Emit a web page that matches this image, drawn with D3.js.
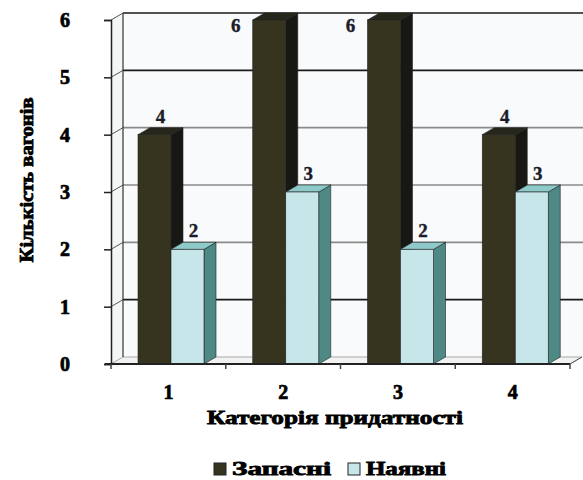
<!DOCTYPE html>
<html><head><meta charset="utf-8">
<script src="https://cdn.jsdelivr.net/npm/d3@7"></script>
<style>html,body{margin:0;padding:0;background:#fff;}svg{display:block;}
svg text{font-family:"Liberation Serif","Times New Roman","DejaVu Serif",serif;font-weight:bold;}</style>
</head><body>
<script>
const categories = ["1", "2", "3", "4"];
const seriesNames = ["Запасні", "Наявні"];
const spare = [4, 6, 6, 4];
const available = [2, 3, 2, 3];
const yTicks = [0, 1, 2, 3, 4, 5, 6];
const xTitle = "Категорія придатності";
const yTitle = "Кількість вагонів";

const W = 583, H = 480;
const DX = 12, DY = -7;
const svg = d3.select("body").append("svg").attr("width", W).attr("height", H);

const x = d3.scaleBand().domain(categories).range([111, 570]).padding(0);
const xs = d3.scaleBand().domain(seriesNames).range([27, 93]).padding(0);
const y = d3.scaleLinear().domain([0, 6]).range([364, 20]);
const color = d3.scaleOrdinal().domain(seriesNames).range(["#36341f", "#c6e6e9"]);
const sideColor = d3.scaleOrdinal().domain(seriesNames).range(["#171713", "#4e8985"]);
const topColor = d3.scaleOrdinal().domain(seriesNames).range(["#26261c", "#8fcaca"]);

const x0 = x.range()[0], x1 = x.range()[1];
const yb = y(0), yt = y(6);

svg.append("rect").attr("x", x0 + DX).attr("y", yt + DY).attr("width", W - x0 - DX + 5).attr("height", yb - yt)
  .attr("fill", "#f9fafb");
svg.append("polygon").attr("points", [[x0, yt], [x0 + DX, yt + DY], [x0 + DX, yb + DY], [x0, yb]].join(" "))
  .attr("fill", "#f4f5f5");
svg.append("polygon").attr("points", [[x0, yb], [x0 + DX, yb + DY], [x1 + DX, yb + DY], [x1, yb]].join(" "))
  .attr("fill", "#f2f2f2").attr("stroke", "#aaa").attr("stroke-width", 1);

const gridColor = v => (v === 1 || v === 5 || v === 6) ? "#1a1a1a" : "#8a8a8a";
yTicks.forEach(v => {
  if (v === 0) return;
  svg.append("line").attr("x1", x0 + DX).attr("x2", W + 5).attr("y1", y(v) + DY).attr("y2", y(v) + DY)
    .attr("stroke", gridColor(v)).attr("stroke-width", 1.6);
  svg.append("line").attr("x1", x0).attr("x2", x0 + DX).attr("y1", y(v)).attr("y2", y(v) + DY)
    .attr("stroke", "#555").attr("stroke-width", 1);
});
svg.append("line").attr("x1", x0 + DX).attr("x2", x0 + DX).attr("y1", yt + DY).attr("y2", yb + DY)
  .attr("stroke", "#333").attr("stroke-width", 1.2);

const yAxis = d3.axisLeft(y).tickValues(yTicks).tickSize(7).tickPadding(38).tickFormat(d3.format("d"));
const ga = svg.append("g").attr("transform", `translate(${x0},0)`).call(yAxis);
ga.attr("font-family", null).attr("font-size", null);
ga.select(".domain").attr("stroke", "#222").attr("stroke-width", 1.5);
ga.selectAll(".tick line").attr("stroke", "#222").attr("stroke-width", 1.5);
ga.selectAll(".tick text").style("font-size", "20px")
  .attr("fill", "#000").attr("stroke", "#000").attr("stroke-width", 0.7).attr("text-anchor", "middle")
  .attr("x", 65 - x0);

const data = categories.map((c, i) => ({ cat: c, vals: [
  { key: seriesNames[0], v: spare[i] },
  { key: seriesNames[1], v: available[i] }
]}));

data.forEach(d => {
  d.vals.forEach(s => {
    const bx = x(d.cat) + xs(s.key), bw = xs.bandwidth();
    const ty = y(s.v), by = y(0);
    const g = svg.append("g");
    g.append("polygon").attr("points", [[bx + bw, ty], [bx + bw + DX, ty + DY], [bx + bw + DX, by + DY], [bx + bw, by]].join(" "))
      .attr("fill", sideColor(s.key)).attr("stroke", "#222").attr("stroke-width", 0.6);
    g.append("polygon").attr("points", [[bx, ty], [bx + DX, ty + DY], [bx + bw + DX, ty + DY], [bx + bw, ty]].join(" "))
      .attr("fill", topColor(s.key)).attr("stroke", "#222").attr("stroke-width", 0.6);
    g.append("rect").attr("x", bx).attr("y", ty).attr("width", bw).attr("height", by - ty)
      .attr("fill", color(s.key)).attr("stroke", "#222").attr("stroke-width", 0.6);
  });
});

data.forEach(d => {
  d.vals.forEach(s => {
    const bx = x(d.cat) + xs(s.key), bw = xs.bandwidth();
    let lx = bx + bw / 2 + DX / 2, ly = y(s.v) + DY - 5;
    if (ly < 28) { lx = bx - 17; ly = y(s.v) + 12; }
    svg.append("text").attr("x", lx).attr("y", ly).attr("text-anchor", "middle")
      .style("font-size", "19px")
      .attr("fill", "#1b1b2a").attr("stroke", "#1b1b2a").attr("stroke-width", 0.4).text(s.v);
  });
});

svg.append("line").attr("x1", x0 - 6).attr("x2", x1).attr("y1", yb).attr("y2", yb)
  .attr("stroke", "#222").attr("stroke-width", 2);
svg.append("line").attr("x1", x1).attr("x2", x1 + DX).attr("y1", yb).attr("y2", yb + DY)
  .attr("stroke", "#555").attr("stroke-width", 1);
const xAxis = d3.axisBottom(x).tickSize(0).tickPadding(0);
const gx = svg.append("g").attr("transform", `translate(0,${yb})`).call(xAxis);
gx.attr("font-family", null).attr("font-size", null);
gx.select(".domain").remove();
gx.selectAll(".tick text").style("font-size", "20px")
  .attr("fill", "#000").attr("stroke", "#000").attr("stroke-width", 0.7).attr("dy", 0).attr("y", 35);
[...categories.map(c => x(c)), x1].forEach(px => {
  svg.append("line").attr("x1", px).attr("x2", px).attr("y1", yb).attr("y2", yb + 5)
    .attr("stroke", "#444").attr("stroke-width", 1.5);
});

svg.append("text").attr("x", 335).attr("y", 424).attr("text-anchor", "middle")
  .style("font-size", "19px")
  .attr("textLength", 256).attr("lengthAdjust", "spacingAndGlyphs")
  .attr("fill", "#000").attr("stroke", "#000").attr("stroke-width", 0.8).text(xTitle);
svg.append("text").attr("transform", "translate(33,180) rotate(-90)").attr("text-anchor", "middle")
  .style("font-size", "19px")
  .attr("textLength", 165).attr("lengthAdjust", "spacingAndGlyphs")
  .attr("fill", "#000").attr("stroke", "#000").attr("stroke-width", 0.8).text(yTitle);

const legendX = [214, 348];
const legendW = [99, 80];
seriesNames.forEach((n, i) => {
  svg.append("rect").attr("x", legendX[i]).attr("y", 463).attr("width", 12).attr("height", 12)
    .attr("fill", color(n)).attr("stroke", "#222").attr("stroke-width", 1);
  svg.append("text").attr("x", legendX[i] + 18).attr("y", 475)
    .style("font-size", "18px")
    .attr("textLength", legendW[i]).attr("lengthAdjust", "spacingAndGlyphs")
    .attr("fill", "#000").attr("stroke", "#000").attr("stroke-width", 0.8).text(n);
});
</script>
</body></html>
